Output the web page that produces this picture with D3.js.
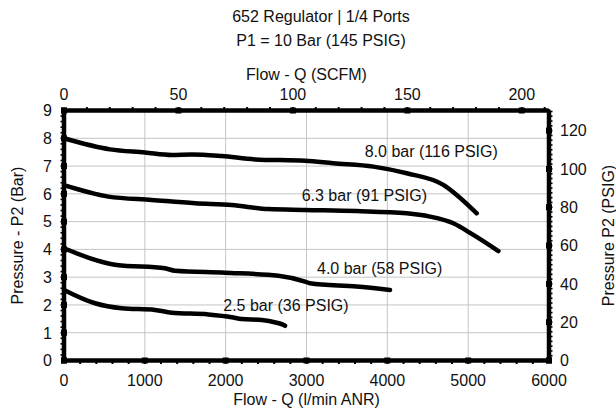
<!DOCTYPE html>
<html>
<head>
<meta charset="utf-8">
<script src="https://cdn.jsdelivr.net/npm/d3@7/dist/d3.min.js"></script>
<style>
  html, body { margin: 0; padding: 0; background: #fff; }
  svg { display: block; font-family: "Liberation Sans", Arial, Helvetica, sans-serif; }
  text { fill: #111; }
</style>
</head>
<body>
<svg id="chart" width="616" height="413"></svg>
<script>
// ---- data (flow in l/min ANR, pressure in bar) ----
const titleLines = ["652 Regulator | 1/4 Ports", "P1 = 10 Bar (145 PSIG)"];
const xTicksLpm = [0, 1000, 2000, 3000, 4000, 5000, 6000];
const xTicksScfm = [0, 50, 100, 150, 200];
const yTicksBar = [0, 1, 2, 3, 4, 5, 6, 7, 8, 9];
const yTicksPsig = [0, 20, 40, 60, 80, 100, 120];

const flow80 = [0, 569, 1002, 1332, 1580, 1951, 2363, 2982, 3332, 3828, 4240, 4693, 4858, 5106];
const pres80 = [8.0, 7.60, 7.49, 7.40, 7.42, 7.36, 7.24, 7.19, 7.10, 6.98, 6.74, 6.32, 5.96, 5.30];

const flow63 = [0, 548, 1085, 1621, 2075, 2528, 2982, 3620, 4239, 4528, 4816, 5064, 5374];
const pres63 = [6.31, 5.90, 5.78, 5.66, 5.60, 5.45, 5.42, 5.38, 5.30, 5.18, 4.94, 4.52, 3.94];

const flow40 = [0, 652, 1250, 1373, 1992, 2651, 2982, 3043, 3620, 4033];
const pres40 = [4.04, 3.44, 3.32, 3.23, 3.16, 3.05, 2.84, 2.78, 2.66, 2.54];

const flow25 = [0, 384, 714, 1126, 1332, 1785, 2075, 2199, 2446, 2632, 2700, 2735];
const pres25 = [2.54, 2.06, 1.88, 1.82, 1.72, 1.66, 1.56, 1.49, 1.46, 1.36, 1.30, 1.25];

const seriesLabels = ["8.0 bar (116 PSIG)", "6.3 bar (91 PSIG)", "4.0 bar (58 PSIG)", "2.5 bar (36 PSIG)"];

const LPM_PER_SCFM = 28.317;
const PSI_PER_BAR = 14.5;

// ---- layout ----
const svg = d3.select("#chart");
const L = 64, R = 549, T = 110.5, B = 360.5;

const x = d3.scaleLinear().domain([0, 6000]).range([L, R]);
const xTop = d3.scaleLinear().domain([0, 6000 / LPM_PER_SCFM]).range([L, R]);
const y = d3.scaleLinear().domain([0, 9]).range([B, T]);
const yR = d3.scaleLinear().domain([0, 9 * PSI_PER_BAR]).range([B, T]);

// grid
const grid = svg.append("g").attr("stroke", "#c4c4c4").attr("stroke-width", 1);
grid.selectAll("line.v").data(xTicksLpm.slice(1, -1)).join("line")
  .attr("x1", d => x(d)).attr("x2", d => x(d)).attr("y1", T).attr("y2", B);
grid.selectAll("line.h").data(yTicksBar.slice(1, -1)).join("line")
  .attr("x1", L).attr("x2", R).attr("y1", d => y(d)).attr("y2", d => y(d));

// curves
const series = [
  { f: flow80, p: pres80 },
  { f: flow63, p: pres63 },
  { f: flow40, p: pres40 },
  { f: flow25, p: pres25 }
];
const line = d3.line().x(d => x(d[0])).y(d => y(d[1])).curve(d3.curveMonotoneX);
svg.append("g").selectAll("path").data(series).join("path")
  .attr("d", s => line(s.f.map((v, i) => [v, s.p[i]])))
  .attr("fill", "none").attr("stroke", "#000").attr("stroke-width", 4.5)
  .attr("stroke-linecap", "round").attr("stroke-linejoin", "round");

// series labels (positions in data units)
const labelPos = [[3720, 7.31], [2940, 5.73], [3130, 3.10], [1970, 1.78]];
svg.append("g").selectAll("text").data(seriesLabels).join("text")
  .attr("x", (d, i) => x(labelPos[i][0])).attr("y", (d, i) => y(labelPos[i][1]))
  .attr("font-size", 16).text(d => d);

// axis frame
svg.append("rect").attr("x", L).attr("y", T).attr("width", R - L).attr("height", B - T)
  .attr("fill", "none").attr("stroke", "#000").attr("stroke-width", 4.5)
  .attr("stroke-linejoin", "round").attr("rx", 2);

const tickG = svg.append("g").attr("stroke", "#000");
// minor ticks
const minorBottom = d3.range(200, 6000, 200);
tickG.selectAll("line.mb").data(minorBottom).join("line")
  .attr("x1", d => x(d)).attr("x2", d => x(d)).attr("y1", B).attr("y2", B + 3.5).attr("stroke-width", 2);
const minorTop = d3.range(10, 6000 / LPM_PER_SCFM, 10);
tickG.selectAll("line.mt").data(minorTop).join("line")
  .attr("x1", d => xTop(d)).attr("x2", d => xTop(d)).attr("y1", T).attr("y2", T - 3.5).attr("stroke-width", 2);
const minorLeft = d3.range(0.2, 9, 0.2);
tickG.selectAll("line.ml").data(minorLeft).join("line")
  .attr("x1", L).attr("x2", L - 3.5).attr("y1", d => y(d)).attr("y2", d => y(d)).attr("stroke-width", 1.6);
const minorRight = d3.range(2.5, 9 * PSI_PER_BAR, 2.5);
tickG.selectAll("line.mr").data(minorRight).join("line")
  .attr("x1", R).attr("x2", R + 3.5).attr("y1", d => yR(d)).attr("y2", d => yR(d)).attr("stroke-width", 1.6);

// major tick squares
const sq = 6;
const majG = svg.append("g").attr("fill", "#000");
majG.selectAll("rect.b").data(xTicksLpm).join("rect")
  .attr("x", d => x(d) - sq / 2).attr("y", B - sq / 2).attr("width", sq).attr("height", sq);
majG.selectAll("rect.t").data(xTicksScfm).join("rect")
  .attr("x", d => xTop(d) - sq / 2).attr("y", T - sq / 2).attr("width", sq).attr("height", sq);
majG.selectAll("rect.l").data(yTicksBar).join("rect")
  .attr("x", L - sq / 2).attr("y", d => y(d) - sq / 2).attr("width", sq).attr("height", sq);
majG.selectAll("rect.r").data(yTicksPsig).join("rect")
  .attr("x", R - sq / 2).attr("y", d => yR(d) - sq / 2).attr("width", sq).attr("height", sq);

// tick labels
const fs = 16;
svg.append("g").selectAll("text").data(xTicksLpm).join("text")
  .attr("x", d => x(d)).attr("y", 385.5).attr("text-anchor", "middle").attr("font-size", fs).text(d => d);
svg.append("g").selectAll("text").data(xTicksScfm).join("text")
  .attr("x", d => xTop(d)).attr("y", 100).attr("text-anchor", "middle").attr("font-size", fs).text(d => d);
svg.append("g").selectAll("text").data(yTicksBar).join("text")
  .attr("x", 52).attr("y", d => y(d) + 5.8).attr("text-anchor", "end").attr("font-size", fs).text(d => d);
svg.append("g").selectAll("text").data(yTicksPsig).join("text")
  .attr("x", 560).attr("y", d => yR(d) + 5.8).attr("text-anchor", "start").attr("font-size", fs).text(d => d);

// titles
svg.append("g").selectAll("text").data(titleLines).join("text")
  .attr("x", 321).attr("y", (d, i) => 22 + i * 24).attr("text-anchor", "middle").attr("font-size", fs).text(d => d);
svg.append("text").attr("x", (L + R) / 2).attr("y", 80).attr("text-anchor", "middle").attr("font-size", fs).text("Flow - Q (SCFM)");
svg.append("text").attr("x", (L + R) / 2).attr("y", 404.5).attr("text-anchor", "middle").attr("font-size", fs).text("Flow - Q (l/min ANR)");
svg.append("text").attr("transform", `translate(23,${(T + B) / 2}) rotate(-90)`)
  .attr("text-anchor", "middle").attr("font-size", fs).text("Pressure - P2 (Bar)");
svg.append("text").attr("transform", `translate(614,${(T + B) / 2}) rotate(-90)`)
  .attr("text-anchor", "middle").attr("font-size", fs).text("Pressure P2 (PSIG)");
</script>
</body>
</html>
